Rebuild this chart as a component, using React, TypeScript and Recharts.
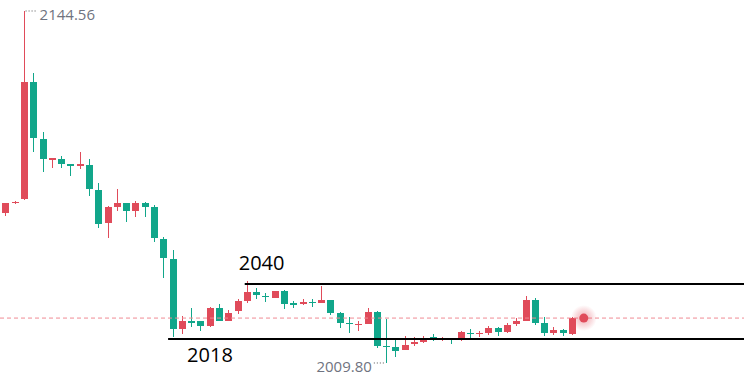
import { ComposedChart, Bar, XAxis, YAxis, ReferenceLine, ReferenceDot } from 'recharts';

// OHLC per session
const opens = [
  2067.23, 2071.05, 2072.59, 2117.38, 2095.56, 2087.52, 2087.9, 2085.98, 2085.22, 2085.6,
  2076.03, 2063.4, 2069.52, 2071.05, 2067.99, 2071.05, 2069.52, 2057.27, 2049.62, 2022.82,
  2025.88, 2025.88, 2023.96, 2030.86, 2025.88, 2029.71, 2033.54, 2036.98, 2035.45, 2034.68,
  2037.36, 2032.77, 2032.39, 2033.15, 2032.77, 2033.92, 2028.94, 2025.11, 2024.35, 2024.73,
  2029.32, 2016.31, 2015.93, 2014.78, 2017.07, 2017.84, 2019.75, 2018.8, 2019.37, 2019.37,
  2021.28, 2020.9, 2021.28, 2023.2, 2021.67, 2024.73, 2025.88, 2033.92, 2025.11, 2021.28,
  2022.43, 2020.9,
];
const highs = [
  2071.2, 2071.82, 2144.56, 2120.82, 2098.24, 2088.28, 2089.05, 2085.98, 2090.58, 2087.9,
  2078.71, 2069.91, 2076.41, 2071.05, 2071.82, 2071.44, 2070.29, 2058.04, 2053.06, 2027.79,
  2030.86, 2025.88, 2031.24, 2032.39, 2030.09, 2034.3, 2041.19, 2038.51, 2036.6, 2037.36,
  2037.75, 2033.54, 2034.3, 2034.3, 2039.28, 2033.92, 2029.32, 2027.41, 2025.88, 2030.86,
  2029.71, 2026.64, 2018.6, 2020.14, 2019.75, 2020.14, 2020.9, 2019.75, 2019.4, 2022.05,
  2022.82, 2022.05, 2023.96, 2023.58, 2025.11, 2027.03, 2035.45, 2034.68, 2027.41, 2023.58,
  2022.82, 2027.41,
];
const lows = [
  2066.08, 2070.67, 2072.2, 2090.58, 2082.92, 2084.45, 2084.45, 2081.39, 2084.07, 2073.73,
  2061.48, 2057.66, 2067.99, 2063.78, 2065.7, 2065.7, 2056.12, 2042.34, 2019.75, 2020.9,
  2023.58, 2022.05, 2023.58, 2025.88, 2025.88, 2028.56, 2032.77, 2034.3, 2033.15, 2034.68,
  2030.47, 2030.86, 2032.0, 2031.24, 2032.77, 2028.18, 2023.2, 2021.28, 2022.05, 2024.73,
  2015.54, 2009.8, 2012.1, 2014.78, 2016.31, 2017.46, 2018.22, 2018.22, 2017.07, 2018.22,
  2019.37, 2019.75, 2020.52, 2020.14, 2021.28, 2023.96, 2025.88, 2024.35, 2020.14, 2020.52,
  2020.14, 2020.52,
];
const closes = [
  2071.05, 2071.44, 2117.38, 2095.94, 2087.9, 2088.28, 2085.98, 2085.22, 2085.98, 2076.41,
  2063.02, 2069.52, 2071.05, 2067.99, 2071.05, 2069.52, 2057.66, 2050.0, 2022.82, 2025.88,
  2025.11, 2023.96, 2030.86, 2025.88, 2028.94, 2033.54, 2036.98, 2035.83, 2035.07, 2037.36,
  2032.39, 2032.0, 2033.15, 2032.77, 2033.92, 2028.94, 2025.11, 2024.73, 2024.73, 2029.32,
  2016.31, 2015.93, 2014.39, 2016.69, 2017.84, 2019.37, 2019.37, 2018.99, 2019.18, 2021.67,
  2020.9, 2021.28, 2023.2, 2021.67, 2024.35, 2025.88, 2033.92, 2025.11, 2021.28, 2022.43,
  2021.28, 2027.0,
];

// drawn horizontal levels and where (bar index) each one starts
const levelValues = [2040.0, 2019.0];
const levelLabels = ['2040', '2018'];
const levelStarts = [25.7, 17.45];

const X_DOMAIN: [number, number] = [-0.646, 79.45];
const Y_DOMAIN: [number, number] = [2004.82, 2148.77];
const MARKER_X = 62.2;

const UP = '#e04b5a';
const DOWN = '#11a68a';
const LABEL_GRAY = '#6f7380';
const FONT = '"Open Sans", sans-serif';
const LEVEL_LABEL_OFFSETS = [
  { dx: -6, dy: -14 },
  { dx: 19, dy: 23 },
];

const data = opens.map((o, i) => ({ i, open: o, high: highs[i], low: lows[i], close: closes[i] }));

const hiIdx = highs.indexOf(Math.max(...highs));
const loIdx = lows.indexOf(Math.min(...lows));
const lastClose = closes[closes.length - 1];

function Candle(props: any) {
  const { x, y, width, height, payload } = props;
  const { open, close, high, low } = payload;
  const color = close >= open ? UP : DOWN;
  const h = Math.abs(height);
  const top = height >= 0 ? y : y + height;
  const ratio = high - low > 0 ? h / (high - low) : 0;
  const cx = x + width / 2;
  const bodyTop = top + (high - Math.max(open, close)) * ratio;
  const bodyH = Math.max(1, Math.abs(open - close) * ratio);
  return (
    <g shapeRendering="crispEdges">
      <rect x={Math.floor(cx)} y={top} width={1} height={Math.max(1, h)} fill={color} />
      <rect x={Math.round(cx - 3.5)} y={bodyTop} width={7} height={bodyH} fill={color} />
    </g>
  );
}

function PriceTag(props: any) {
  const { cx, cy, text, side } = props;
  const right = side === 'right';
  const x1 = right ? cx + 1 : cx - 13;
  const x2 = right ? cx + 13 : cx - 1;
  return (
    <g>
      <line x1={x1} y1={cy} x2={x2} y2={cy} stroke="#555" strokeWidth={1} strokeDasharray="1 2" />
      <text
        x={right ? cx + 15 : cx - 15}
        y={cy + 9}
        textAnchor={right ? 'start' : 'end'}
        fontSize={15}
        fontFamily={FONT}
        fill={LABEL_GRAY}
      >
        {text}
      </text>
    </g>
  );
}

function LevelLabel(props: any) {
  const { cx, cy, text, dx, dy } = props;
  return (
    <text x={cx + dx} y={cy + dy} fontSize={20} fontFamily={FONT} fill="#000">
      {text}
    </text>
  );
}

function LiveDot(props: any) {
  const { cx, cy } = props;
  return (
    <g>
      <defs>
        <radialGradient id="liveGlow">
          <stop offset="0%" stopColor={UP} stopOpacity={0.45} />
          <stop offset="60%" stopColor={UP} stopOpacity={0.2} />
          <stop offset="100%" stopColor={UP} stopOpacity={0} />
        </radialGradient>
      </defs>
      <circle cx={cx} cy={cy} r={13} fill="url(#liveGlow)" />
      <circle cx={cx} cy={cy} r={4.5} fill={UP} />
    </g>
  );
}

export default function App() {
  return (
    <div style={{ position: 'absolute', left: 0, top: 0, width: 744, height: 376, background: '#fff' }}>
      <ComposedChart width={744} height={376} data={data} margin={{ top: 0, right: 0, bottom: 0, left: 0 }}>
        <XAxis dataKey="i" type="number" domain={X_DOMAIN} allowDataOverflow hide />
        <YAxis type="number" domain={Y_DOMAIN} allowDataOverflow hide />
        <ReferenceLine y={lastClose} stroke="#f08a94" strokeDasharray="4 3" strokeWidth={1} />
        {levelValues.map((v, k) => (
          <ReferenceLine
            key={`lv${k}`}
            segment={[{ x: levelStarts[k], y: v }, { x: X_DOMAIN[1], y: v }]}
            stroke="#000"
            strokeWidth={2}
          />
        ))}
        <Bar
          dataKey={(d: any) => [d.low, d.high]}
          shape={Candle}
          barSize={7}
          isAnimationActive={false}
        />
        {levelValues.map((v, k) => (
          <ReferenceDot
            key={`ll${k}`}
            x={levelStarts[k]}
            y={v}
            shape={(p: any) => (
              <LevelLabel {...p} text={levelLabels[k]} dx={LEVEL_LABEL_OFFSETS[k].dx} dy={LEVEL_LABEL_OFFSETS[k].dy} />
            )}
          />
        ))}
        <ReferenceDot
          x={hiIdx}
          y={highs[hiIdx]}
          shape={(p: any) => <PriceTag {...p} text={highs[hiIdx].toFixed(2)} side="right" />}
        />
        <ReferenceDot
          x={loIdx}
          y={lows[loIdx]}
          shape={(p: any) => <PriceTag {...p} text={lows[loIdx].toFixed(2)} side="left" />}
        />
        <ReferenceDot x={MARKER_X} y={lastClose} shape={LiveDot} />
      </ComposedChart>
    </div>
  );
}
